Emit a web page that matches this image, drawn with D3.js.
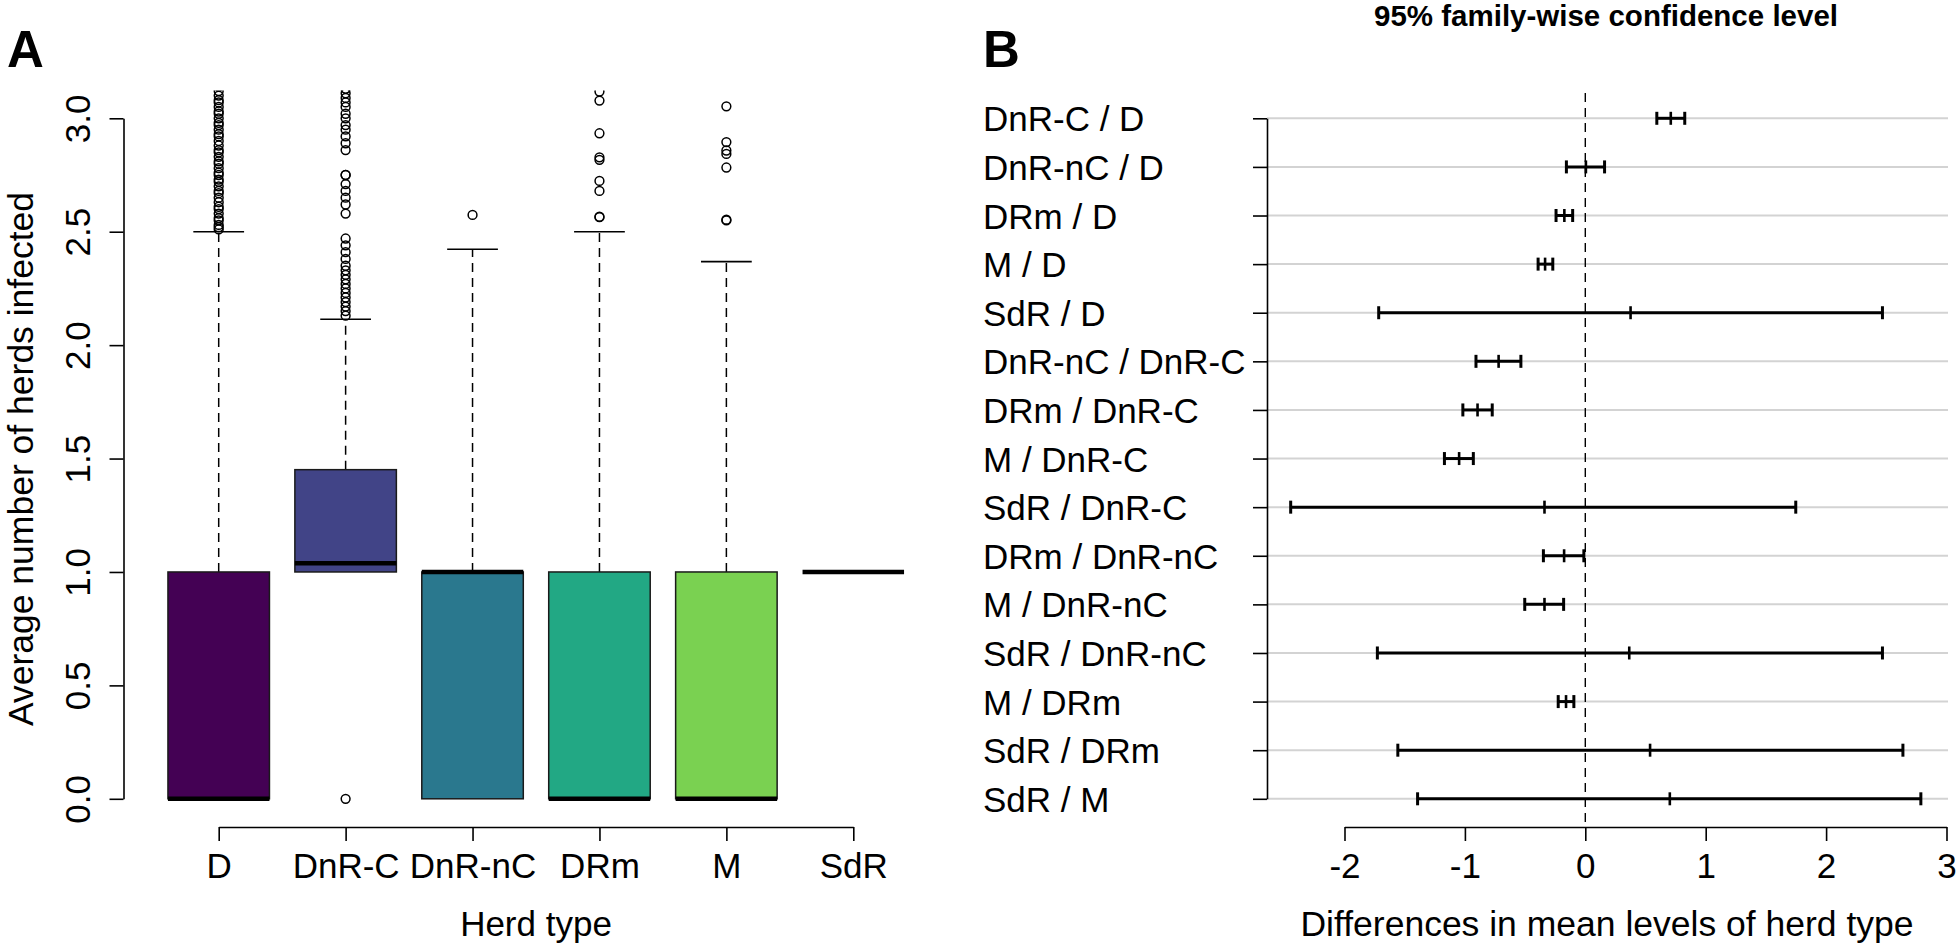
<!DOCTYPE html>
<html>
<head>
<meta charset="utf-8">
<script src="https://cdn.jsdelivr.net/npm/d3@7"></script>
<style>
  html, body { margin: 0; padding: 0; background: #fff; }
  svg { display: block; }
  text { font-family: "Liberation Sans", Arial, "DejaVu Sans", sans-serif; fill: #000; }
</style>
</head>
<body>
<svg id="chart" width="1960" height="951"></svg>
<script>
// ---------------- Panel A data (boxplot) ----------------
const categories = ["D", "DnR-C", "DnR-nC", "DRm", "M", "SdR"];
const boxColors  = ["#440154", "#414487", "#2A788E", "#22A884", "#7AD151", "#FDE725"];
const whiskerLow  = [0, 1.0, 0, 0, 0, 1.0];
const q1          = [0, 1.0, 0, 0, 0, 1.0];
const medians     = [0, 1.038, 1.0, 0, 0, 1.0];
const q3          = [1.0, 1.451, 1.0, 1.0, 1.0, 1.0];
const whiskerHigh = [2.5, 2.114, 2.423, 2.5, 2.368, 1.0];
const outliersD     = [2.51, 2.52, 2.53, 2.55, 2.56, 2.58, 2.60, 2.61, 2.63, 2.65, 2.67, 2.68, 2.70, 2.72, 2.73, 2.75, 2.76, 2.78, 2.80, 2.81, 2.83, 2.85, 2.86, 2.88, 2.90, 2.92, 2.93, 2.95, 2.97, 2.98, 3.00, 3.02, 3.03, 3.05, 3.07, 3.08, 3.10, 3.12, 3.14];
const outliersDnRC  = [0.0, 2.13, 2.15, 2.17, 2.19, 2.21, 2.23, 2.25, 2.27, 2.29, 2.31, 2.33, 2.35, 2.38, 2.41, 2.44, 2.47, 2.58, 2.62, 2.65, 2.68, 2.71, 2.75, 2.75, 2.86, 2.89, 2.92, 2.95, 2.97, 3.00, 3.02, 3.05, 3.07, 3.09, 3.11, 3.13];
const outliersDnRnC = [2.574];
const outliersDRm   = [2.564, 2.566, 2.68, 2.724, 2.817, 2.828, 2.934, 3.078, 3.118];
const outliersM     = [2.55, 2.553, 2.783, 2.843, 2.858, 2.895, 3.053];
const outliersSdR   = [];
const outlierLists  = [outliersD, outliersDnRC, outliersDnRnC, outliersDRm, outliersM, outliersSdR];
const yTicksA = [0, 0.5, 1.0, 1.5, 2.0, 2.5, 3.0];

// ---------------- Panel B data (Tukey HSD) ----------------
const comparisons = ["DnR-C / D", "DnR-nC / D", "DRm / D", "M / D", "SdR / D",
  "DnR-nC / DnR-C", "DRm / DnR-C", "M / DnR-C", "SdR / DnR-C",
  "DRm / DnR-nC", "M / DnR-nC", "SdR / DnR-nC", "M / DRm", "SdR / DRm", "SdR / M"];
const diffs = [0.710, 0.005, -0.174, -0.334, 0.376, -0.720, -0.895, -1.048, -0.339, -0.176, -0.339, 0.365, -0.160, 0.538, 0.702];
const lwr   = [0.594, -0.157, -0.243, -0.392, -1.716, -0.908, -1.017, -1.170, -2.447, -0.348, -0.503, -1.727, -0.225, -1.557, -1.393];
const upr   = [0.826, 0.160, -0.105, -0.270, 2.468, -0.535, -0.773, -0.930, 1.748, -0.012, -0.180, 2.468, -0.095, 2.638, 2.787];
const xTicksB = [-2, -1, 0, 1, 2, 3];

const svg = d3.select("#chart");
const FONT = '"Liberation Sans", Arial, sans-serif';

// ================= PANEL A =================
const yA = d3.scaleLinear().domain([0, 3]).range([798.8, 118.3]);
const xA = d3.scalePoint().domain(categories).range([218.7, 853.3]);
const boxW = 101.5;
const gA = svg.append("g");

svg.append("defs").append("clipPath").attr("id", "clipA")
  .append("rect").attr("x", 123).attr("y", 90.5).attr("width", 830).attr("height", 740);

const plotA = gA.append("g").attr("clip-path", "url(#clipA)");

categories.forEach((c, i) => {
  const cx = xA(c);
  const g = plotA.append("g");
  if (whiskerHigh[i] > q3[i]) {
    g.append("line").attr("x1", cx).attr("x2", cx)
      .attr("y1", yA(q3[i])).attr("y2", yA(whiskerHigh[i]))
      .attr("stroke", "#000").attr("stroke-width", 1.5).attr("stroke-dasharray", "9,6");
    g.append("line").attr("x1", cx - boxW / 4).attr("x2", cx + boxW / 4)
      .attr("y1", yA(whiskerHigh[i])).attr("y2", yA(whiskerHigh[i]))
      .attr("stroke", "#000").attr("stroke-width", 1.6);
  }
  if (whiskerLow[i] < q1[i]) {
    g.append("line").attr("x1", cx).attr("x2", cx)
      .attr("y1", yA(q1[i])).attr("y2", yA(whiskerLow[i]))
      .attr("stroke", "#000").attr("stroke-width", 1.5).attr("stroke-dasharray", "9,6");
  }
  if (q3[i] > q1[i]) {
    g.append("rect").attr("x", cx - boxW / 2).attr("width", boxW)
      .attr("y", yA(q3[i])).attr("height", yA(q1[i]) - yA(q3[i]))
      .attr("fill", boxColors[i]).attr("stroke", "#1a1a1a").attr("stroke-width", 1.5);
  }
  g.append("line").attr("x1", cx - boxW / 2).attr("x2", cx + boxW / 2)
    .attr("y1", yA(medians[i])).attr("y2", yA(medians[i]))
    .attr("stroke", "#000").attr("stroke-width", 4.5);
  g.selectAll("circle").data(outlierLists[i]).join("circle")
    .attr("cx", cx).attr("cy", d => yA(d)).attr("r", 4.4)
    .attr("fill", "none").attr("stroke", "#000").attr("stroke-width", 1.5);
});

const yAxisA = gA.append("g").attr("transform", "translate(123.5,0)")
  .call(d3.axisLeft(yA).tickValues(yTicksA).tickFormat(d3.format(".1f")).tickSize(14).tickSizeOuter(0));
yAxisA.select(".domain").attr("stroke", "#000").attr("stroke-width", 1.6);
yAxisA.selectAll(".tick line").attr("stroke", "#000").attr("stroke-width", 1.6);
yAxisA.selectAll(".tick text")
  .attr("transform", "rotate(-90)").attr("x", 0).attr("y", -33.5).attr("dy", 0)
  .attr("text-anchor", "middle").style("font-size", "35px").attr("fill", "#000")
  .style("font-family", FONT);

const xAxisA = gA.append("g").attr("transform", "translate(0,827)")
  .call(d3.axisBottom(xA).tickSize(14).tickSizeOuter(0));
xAxisA.select(".domain").attr("stroke", "#000").attr("stroke-width", 1.6);
xAxisA.selectAll(".tick line").attr("stroke", "#000").attr("stroke-width", 1.6);
xAxisA.selectAll(".tick text").attr("y", 51).attr("dy", 0)
  .style("font-size", "35px").attr("fill", "#000").style("font-family", FONT);

gA.append("text").attr("x", 536).attr("y", 936).attr("text-anchor", "middle")
  .style("font-size", "35px").text("Herd type");
gA.append("text").attr("transform", "translate(33,459) rotate(-90)").attr("text-anchor", "middle")
  .style("font-size", "35.5px").text("Average number of herds infected");
gA.append("text").attr("x", 7).attr("y", 67).style("font-size", "51px").style("font-weight", "bold").text("A");

// ================= PANEL B =================
const xB = d3.scaleLinear().domain([-2, 3]).range([1344.5, 1946.5]);
const yB = d3.scalePoint().domain(comparisons).range([118.3, 798.8]);
const gB = svg.append("g");

gB.selectAll("line.grid").data(comparisons).join("line").attr("class", "grid")
  .attr("x1", 1267).attr("x2", 1948).attr("y1", d => yB(d)).attr("y2", d => yB(d))
  .attr("stroke", "#d3d3d3").attr("stroke-width", 2);

gB.append("line").attr("x1", xB(0)).attr("x2", xB(0)).attr("y1", 93).attr("y2", 826)
  .attr("stroke", "#000").attr("stroke-width", 1.4).attr("stroke-dasharray", "9,6");

const capH = 6.5;
comparisons.forEach((c, i) => {
  const y = yB(c);
  const g = gB.append("g");
  g.append("line").attr("x1", xB(lwr[i])).attr("x2", xB(upr[i])).attr("y1", y).attr("y2", y)
    .attr("stroke", "#000").attr("stroke-width", 3);
  [lwr[i], upr[i]].forEach(v => {
    g.append("line").attr("x1", xB(v)).attr("x2", xB(v)).attr("y1", y - capH).attr("y2", y + capH)
      .attr("stroke", "#000").attr("stroke-width", 3);
  });
  g.append("line").attr("x1", xB(diffs[i])).attr("x2", xB(diffs[i])).attr("y1", y - capH).attr("y2", y + capH)
    .attr("stroke", "#000").attr("stroke-width", 2.6);
});

const yAxisB = gB.append("g").attr("transform", "translate(1267,0)")
  .call(d3.axisLeft(yB).tickSize(14).tickSizeOuter(0));
yAxisB.select(".domain").attr("stroke", "#000").attr("stroke-width", 1.6);
yAxisB.selectAll(".tick line").attr("stroke", "#000").attr("stroke-width", 1.6);
yAxisB.selectAll(".tick text").attr("x", 983 - 1267).attr("dy", "0.36em")
  .attr("text-anchor", "start").style("font-size", "35px").attr("fill", "#000")
  .style("font-family", FONT);

const xAxisB = gB.append("g").attr("transform", "translate(0,827)")
  .call(d3.axisBottom(xB).tickValues(xTicksB).tickFormat(d3.format("d")).tickSize(14).tickSizeOuter(0));
xAxisB.select(".domain").attr("stroke", "#000").attr("stroke-width", 1.6);
xAxisB.selectAll(".tick line").attr("stroke", "#000").attr("stroke-width", 1.6);
xAxisB.selectAll(".tick text").attr("y", 51).attr("dy", 0)
  .style("font-size", "35px").attr("fill", "#000").style("font-family", FONT)
  .text(d => d < 0 ? "-" + Math.abs(d) : String(d));

gB.append("text").attr("x", 1607).attr("y", 936).attr("text-anchor", "middle")
  .style("font-size", "35.5px").text("Differences in mean levels of herd type");
gB.append("text").attr("x", 1606).attr("y", 26).attr("text-anchor", "middle")
  .style("font-size", "29.5px").style("font-weight", "bold").text("95% family-wise confidence level");
gB.append("text").attr("x", 983).attr("y", 67).style("font-size", "51px").style("font-weight", "bold").text("B");
</script>
</body>
</html>
